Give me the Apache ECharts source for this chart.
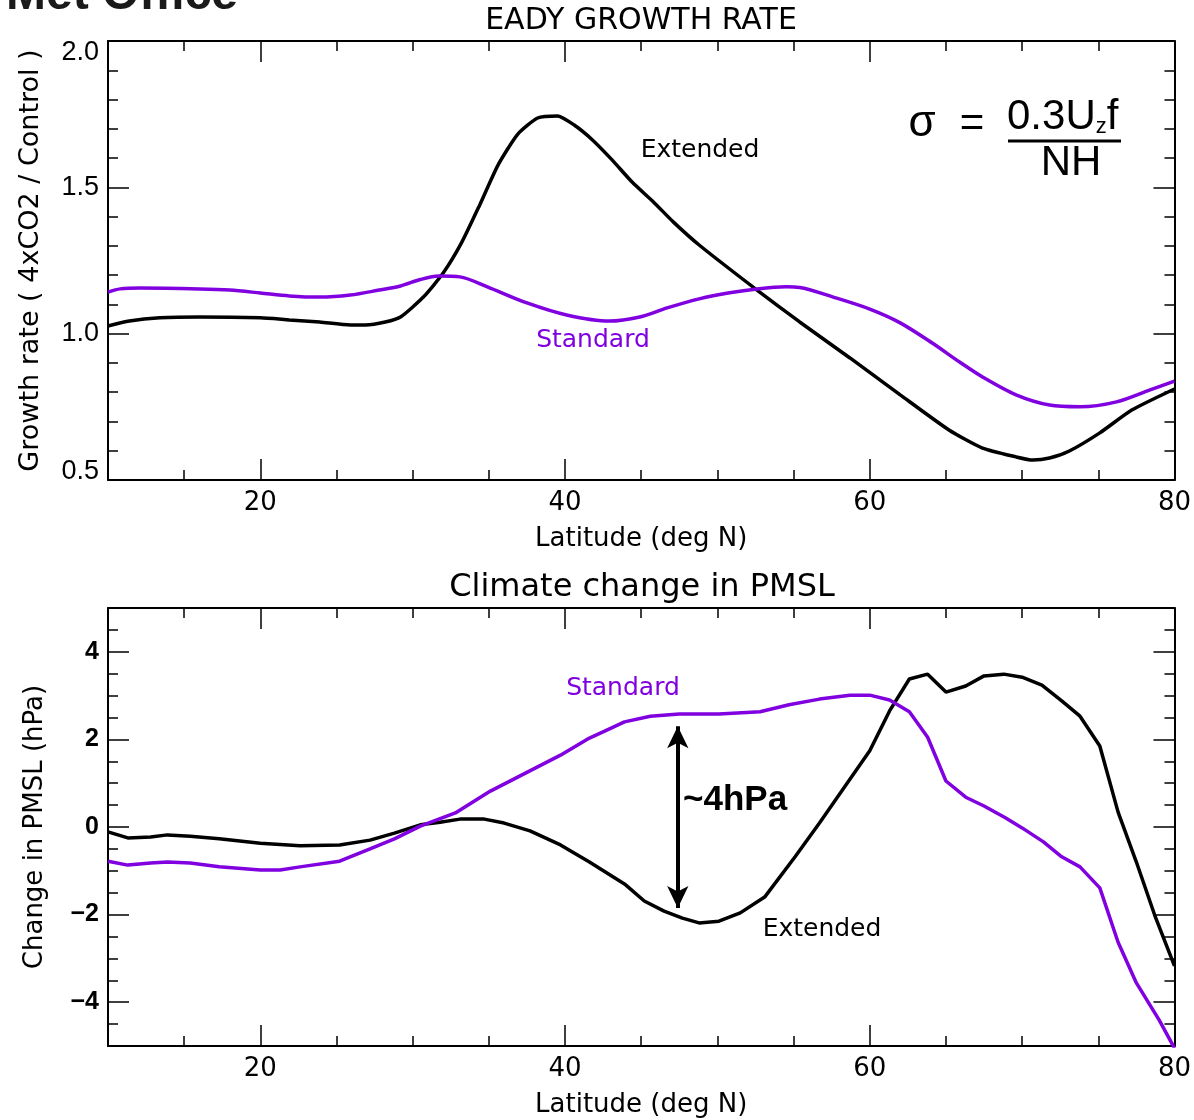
<!DOCTYPE html>
<html><head><meta charset="utf-8">
<script src="https://cdn.jsdelivr.net/npm/echarts@6/dist/echarts.min.js"></script>
<style>html,body{margin:0;padding:0;background:#fff}#c{width:1194px;height:1120px}</style>
</head><body><div id="c"></div>
<script>
// ---- data ----
const topExtLat = [10,11.4,13.4,16,20,21.9,23.9,25.9,26.9,28.2,29.2,30.7,32,33.2,34.4,35.6,36.9,38.2,39.5,40.6,41.8,43.1,44.4,45.8,47.1,48.8,52.6,55.4,58.7,62,65.2,67.4,69.6,70.7,71.8,73.1,75.1,77.2,80];
const topExtVal = [1.026,1.043,1.054,1.057,1.054,1.047,1.04,1.03,1.03,1.04,1.057,1.125,1.207,1.31,1.44,1.576,1.682,1.737,1.744,1.713,1.662,1.593,1.518,1.45,1.382,1.303,1.149,1.04,0.917,0.791,0.671,0.609,0.579,0.568,0.575,0.599,0.661,0.739,0.811];
const topStdLat = [10,10.8,12.1,16,18,20,21.9,23.9,25.9,27.8,29.2,30.5,31.7,33.1,34.9,37.5,40.1,42.9,44.9,46.7,48.8,50.8,52.6,54.5,55.4,57.6,60,62,64.1,65.9,67.4,69.6,71.8,73.8,76.2,78.4,80];
const topStdVal = [1.142,1.153,1.156,1.153,1.149,1.139,1.129,1.125,1.132,1.149,1.163,1.185,1.197,1.194,1.16,1.105,1.064,1.043,1.057,1.088,1.119,1.14,1.153,1.16,1.158,1.125,1.084,1.037,0.968,0.903,0.852,0.791,0.756,0.75,0.767,0.808,0.838];
const botExtLat = [10,11.3,12.8,13.9,15.4,17.3,20,22.6,25.2,27.2,28.8,30.5,31.8,33.1,34.7,36,37.7,39.7,41.6,43.9,45.2,46.5,47.7,48.8,50.1,51.5,53.1,55.1,56.7,58.4,60,61.3,62.6,63.8,65,66.3,67.5,68.8,70,71.3,72.6,73.8,75.1,76.3,77.5,78.7,80];
const botExtVal = [-0.11,-0.25,-0.23,-0.18,-0.21,-0.27,-0.37,-0.43,-0.41,-0.30,-0.14,0.05,0.11,0.18,0.18,0.09,-0.09,-0.41,-0.80,-1.30,-1.69,-1.92,-2.08,-2.19,-2.15,-1.96,-1.60,-0.68,0.09,0.94,1.74,2.65,3.38,3.49,3.08,3.22,3.45,3.49,3.42,3.24,2.88,2.53,1.85,0.34,-0.80,-2.01,-3.17];
const botStdLat = [10,11.3,12.8,13.9,15.4,17.3,20,21.3,22.6,25.2,27.2,28.8,30.5,32.8,35.1,37.4,39.7,41.6,42.6,43.9,45.6,47.5,50.1,52.8,54.7,56.7,58.7,60,61.3,62.6,63.8,65,66.3,67.5,68.9,70,71.4,72.6,73.8,75.1,76.3,77.5,79,80];
const botStdVal = [-0.78,-0.87,-0.82,-0.80,-0.82,-0.91,-0.98,-0.98,-0.91,-0.78,-0.50,-0.27,0.02,0.32,0.82,1.23,1.64,2.03,2.19,2.40,2.53,2.58,2.58,2.63,2.79,2.92,3.01,3.01,2.90,2.63,2.05,1.05,0.68,0.48,0.21,-0.02,-0.34,-0.68,-0.91,-1.39,-2.63,-3.56,-4.41,-5.05];
const arrowLat = [47.4, 47.4];
const arrowVal = [2.3, -1.85];

const xLabelValues = [20,40,60,80];
const xMajorTicks = [20,40,60,80];
const xMinorTicks = [15,25,30,35,45,50,55,65,70,75];
const topYLabels = [0.5,1.0,1.5,2.0];
const topYMajor = [0.5,1.0,1.5,2.0];
const topYMinor = [0.6,0.7,0.8,0.9,1.1,1.2,1.3,1.4,1.6,1.7,1.8,1.9];
const botYLabels = [-4,-2,0,2,4];
const botYMinor = [-4.5,-3.5,-3,-2.5,-1.5,-1,-0.5,0.5,1,1.5,2.5,3,3.5,4.5];

// ---- styling ----
const PURPLE = '#8000e0';
const HERSHEY = '"DejaVu Sans", sans-serif';
const ARIAL = '"Liberation Sans", Arial, sans-serif';
const zip = (a, b) => a.map((v, i) => [v, b[i]]);
const LINE = {show: true, onZero: false, lineStyle: {color: '#000', width: 2}};

function xAxesFor(grid, name) {
  const base = {gridIndex: grid, type: 'value', min: 10, max: 80, splitLine: {show: false}};
  const tk = (vals, len) => ({show: true, inside: true, length: len, customValues: vals, lineStyle: {color: '#000', width: 1.5}});
  return [
    Object.assign({}, base, {position: 'bottom', axisLine: LINE,
      axisTick: tk(xMajorTicks, 21),
      axisLabel: {show: true, customValues: xLabelValues, margin: 10, color: '#000', fontSize: 26, fontFamily: HERSHEY},
      name: name, nameLocation: 'middle', nameGap: 46, nameTextStyle: {color: '#000', fontSize: 26, fontFamily: HERSHEY}}),
    Object.assign({}, base, {position: 'bottom', axisLine: {show: false, onZero: false}, axisTick: tk(xMinorTicks, 10), axisLabel: {show: false}}),
    Object.assign({}, base, {position: 'top', axisLine: LINE, axisTick: tk(xMajorTicks, 21), axisLabel: {show: false}}),
    Object.assign({}, base, {position: 'top', axisLine: {show: false, onZero: false}, axisTick: tk(xMinorTicks, 10), axisLabel: {show: false}})
  ];
}
function yAxesFor(grid, min, max, major, minor, labels, labelOpt, name, nameGap, nameSize) {
  const base = {gridIndex: grid, type: 'value', min: min, max: max, splitLine: {show: false}};
  const tk = (vals, len) => ({show: true, inside: true, length: len, customValues: vals, lineStyle: {color: '#000', width: 1.5}});
  return [
    Object.assign({}, base, {position: 'left', axisLine: LINE,
      axisTick: tk(major, 21),
      axisLabel: Object.assign({show: true, customValues: labels, margin: 9, color: '#000'}, labelOpt),
      name: name, nameLocation: 'middle', nameRotate: 90, nameGap: nameGap,
      nameTextStyle: {color: '#000', fontSize: nameSize, fontFamily: HERSHEY}}),
    Object.assign({}, base, {position: 'left', axisLine: {show: false, onZero: false}, axisTick: tk(minor, 10), axisLabel: {show: false}}),
    Object.assign({}, base, {position: 'right', axisLine: LINE, axisTick: tk(major, 21), axisLabel: {show: false}}),
    Object.assign({}, base, {position: 'right', axisLine: {show: false, onZero: false}, axisTick: tk(minor, 10), axisLabel: {show: false}})
  ];
}

const topLabelOpt = {
  fontSize: 27, fontFamily: ARIAL,
  formatter: v => v >= 1.99 ? '{t|2.0}' : (v <= 0.51 ? '{b|0.5}' : v.toFixed(1)),
  rich: {
    t: {fontSize: 27, fontFamily: ARIAL, color: '#000', padding: [24, 0, 0, 0]},
    b: {fontSize: 27, fontFamily: ARIAL, color: '#000', padding: [0, 0, 16, 0]}
  }
};
const botLabelOpt = {
  fontSize: 25, fontFamily: ARIAL, fontWeight: 'bold',
  formatter: v => (v < 0 ? '\u2212' + Math.abs(v) : String(v))
};

const chart = echarts.init(document.getElementById('c'), null, {renderer: 'canvas'});
const option = {
  animation: false,
  backgroundColor: '#fff',
  grid: [
    {left: 108, top: 41, width: 1067, height: 439},
    {left: 108, top: 608, width: 1067, height: 438}
  ],
  xAxis: [].concat(xAxesFor(0, 'Latitude (deg N)'), xAxesFor(1, 'Latitude (deg N)')),
  yAxis: [].concat(
    yAxesFor(0, 0.5, 2.0, topYMajor, topYMinor, topYLabels, topLabelOpt, 'Growth rate ( 4xCO2 / Control )', 64, 27),
    yAxesFor(1, -5, 5, botYLabels, botYMinor, botYLabels, botLabelOpt, 'Change in PMSL (hPa)', 60, 26)
  ),
  series: [
    {type: 'line', xAxisIndex: 0, yAxisIndex: 0, data: zip(topExtLat, topExtVal), smooth: 0.2, showSymbol: false,
      lineStyle: {color: '#000', width: 3.5}, itemStyle: {color: '#000'}, clip: true},
    {type: 'line', xAxisIndex: 0, yAxisIndex: 0, data: zip(topStdLat, topStdVal), smooth: 0.3, showSymbol: false,
      lineStyle: {color: PURPLE, width: 3.5}, itemStyle: {color: PURPLE}, clip: true},
    {type: 'line', xAxisIndex: 4, yAxisIndex: 4, data: zip(botExtLat, botExtVal), smooth: false, showSymbol: false,
      lineStyle: {color: '#000', width: 3.5}, itemStyle: {color: '#000'}, clip: true,
      markLine: {silent: true, symbol: ['arrow', 'arrow'], symbolSize: [16, 22], label: {show: false},
        lineStyle: {color: '#000', width: 4, type: 'solid'},
        data: [[{coord: [arrowLat[0], arrowVal[0]]}, {coord: [arrowLat[1], arrowVal[1]]}]]}},
    {type: 'line', xAxisIndex: 4, yAxisIndex: 4, data: zip(botStdLat, botStdVal), smooth: false, showSymbol: false,
      lineStyle: {color: PURPLE, width: 3.5}, itemStyle: {color: PURPLE}, clip: true}
  ],
  graphic: [
    {type: 'text', style: {x: 6, y: -4, text: 'Met Office', font: 'bold 48px ' + ARIAL, fill: '#1a1a1a', verticalAlign: 'middle'}},
    {type: 'text', style: {x: 641, y: 21, text: 'EADY GROWTH RATE', font: '30px ' + HERSHEY, fill: '#000', align: 'center', verticalAlign: 'middle'}},
    {type: 'text', style: {x: 642, y: 588, text: 'Climate change in PMSL', font: '32px ' + HERSHEY, fill: '#000', align: 'center', verticalAlign: 'middle'}},
    {type: 'text', style: {x: 700, y: 150, text: 'Extended', font: '25px ' + HERSHEY, fill: '#000', align: 'center', verticalAlign: 'middle'}},
    {type: 'text', style: {x: 593, y: 340, text: 'Standard', font: '25px ' + HERSHEY, fill: PURPLE, align: 'center', verticalAlign: 'middle'}},
    {type: 'text', style: {x: 623, y: 688, text: 'Standard', font: '25px ' + HERSHEY, fill: PURPLE, align: 'center', verticalAlign: 'middle'}},
    {type: 'text', style: {x: 822, y: 929, text: 'Extended', font: '25px ' + HERSHEY, fill: '#000', align: 'center', verticalAlign: 'middle'}},
    {type: 'text', style: {x: 683, y: 800, text: '~4hPa', font: 'bold 35px ' + ARIAL, fill: '#000', align: 'left', verticalAlign: 'middle'}},
    {type: 'text', style: {x: 922, y: 124, text: '\u03c3', font: '44px ' + ARIAL, fill: '#000', align: 'center', verticalAlign: 'middle'}},
    {type: 'text', style: {x: 972, y: 124, text: '=', font: '42px ' + ARIAL, fill: '#000', align: 'center', verticalAlign: 'middle'}},
    {type: 'text', style: {x: 1007, y: 138, text: '{a|0.3U}{s|z}{a|f}', align: 'left', verticalAlign: 'bottom',
      rich: {a: {font: '42px ' + ARIAL, fill: '#000', verticalAlign: 'bottom', lineHeight: 46},
             s: {font: '22px ' + ARIAL, fill: '#000', verticalAlign: 'bottom', lineHeight: 40}}}},
    {type: 'line', shape: {x1: 1008, y1: 141, x2: 1121, y2: 141}, style: {stroke: '#000', lineWidth: 3}},
    {type: 'text', style: {x: 1071, y: 163, text: 'NH', font: '42px ' + ARIAL, fill: '#000', align: 'center', verticalAlign: 'middle'}}
  ]
};
chart.setOption(option);
</script>
</body></html>
